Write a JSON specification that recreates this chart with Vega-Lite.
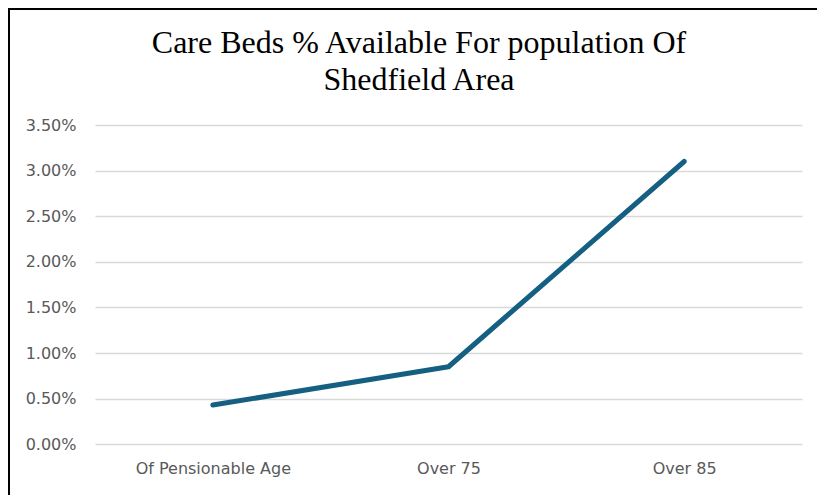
{
  "$schema": "https://vega.github.io/schema/vega-lite/v6.json",
  "description": "Share of care beds available per population group in the Shedfield area.",
  "width": 810,
  "height": 488,
  "autosize": {"type": "none"},
  "padding": {"left": 9, "top": 9, "right": 0, "bottom": 0},
  "background": "white",
  "title": {
    "text": ["Care Beds % Available For population Of", "Shedfield Area"],
    "font": "Liberation Serif",
    "fontSize": 32,
    "fontWeight": "normal",
    "color": "black",
    "anchor": "middle",
    "frame": "group",
    "offset": -88,
    "lineHeight": 37,
    "dx": 5
  },
  "data": {
    "values": [
      {"group": "Of Pensionable Age", "share": 0.0043},
      {"group": "Over 75", "share": 0.0085},
      {"group": "Over 85", "share": 0.031}
    ]
  },
  "mark": {
    "type": "line",
    "color": "#156082",
    "strokeWidth": 5,
    "strokeCap": "round",
    "strokeJoin": "round"
  },
  "encoding": {
    "x": {
      "field": "group",
      "type": "nominal",
      "sort": null,
      "scale": {"type": "point", "range": [86, 793], "padding": 0.5},
      "axis": {
        "title": null,
        "orient": "bottom",
        "offset": -53,
        "domain": false,
        "ticks": false,
        "tickSize": 0,
        "grid": false,
        "labelAngle": 0,
        "labelPadding": 16,
        "labelFont": "DejaVu Sans",
        "labelFontSize": 16,
        "labelColor": "#595959"
      }
    },
    "y": {
      "field": "share",
      "type": "quantitative",
      "scale": {"domain": [0, 0.035], "range": [435.3, 116], "nice": false},
      "axis": {
        "title": null,
        "offset": -86,
        "domain": false,
        "ticks": false,
        "tickSize": 0,
        "values": [0, 0.005, 0.01, 0.015, 0.02, 0.025, 0.03, 0.035],
        "format": ".2%",
        "labelPadding": 19,
        "labelFont": "DejaVu Sans",
        "labelFontSize": 16,
        "labelColor": "#595959",
        "grid": true,
        "gridColor": "#d9d9d9",
        "gridWidth": 1.3
      }
    }
  },
  "config": {
    "view": {"stroke": "black", "strokeWidth": 2}
  }
}
